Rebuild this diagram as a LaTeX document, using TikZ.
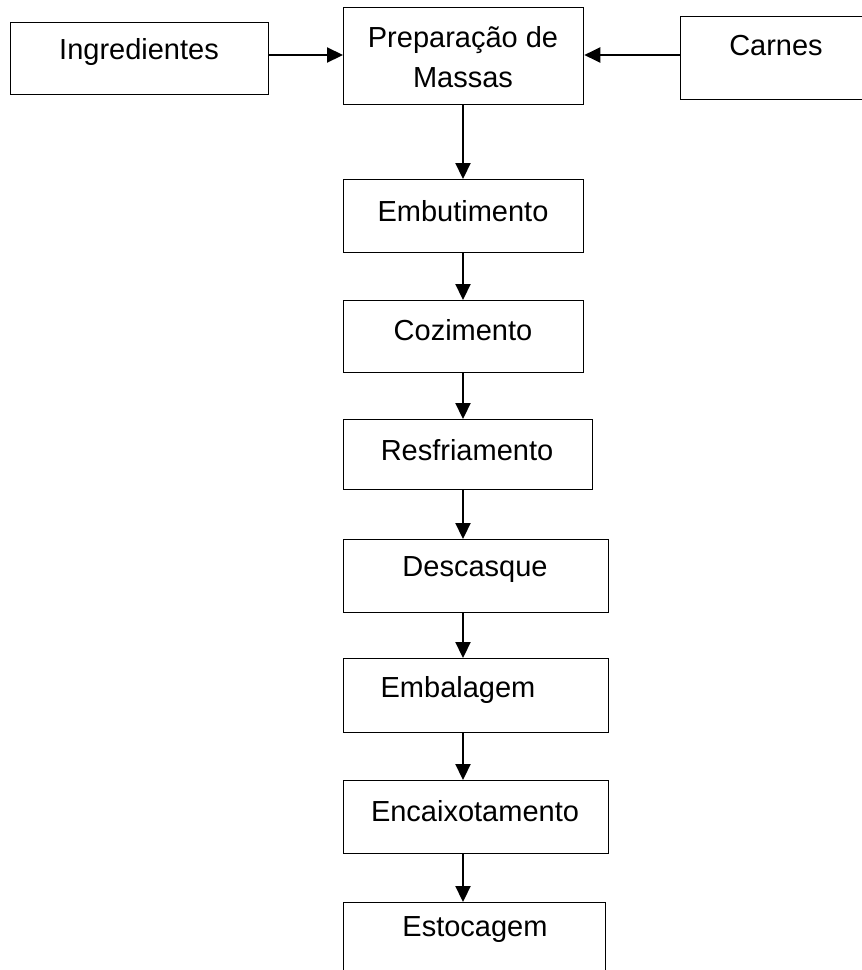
\documentclass[tikz,border=0pt]{standalone}
\usepackage{fontspec}
\setmainfont{Liberation Sans}
\usetikzlibrary{arrows.meta}
\begin{document}
\begin{tikzpicture}[x=1pt,y=-1pt,
  box/.style={draw=black,line width=1.3pt,rectangle,inner sep=0pt,anchor=north west},
  lbl/.style={inner sep=0pt,font=\fontsize{29}{40}\selectfont,align=center},
  arr/.style={line width=2.2pt,-{Triangle[length=16pt,width=15pt]}}]
\useasboundingbox (0,0) rectangle (862,970);
\begin{scope}
\clip (0,0) rectangle (862,970);
% boxes
\node[box,minimum width=258pt,minimum height=72pt] (ing) at (10,22) {};
\node[box,minimum width=240pt,minimum height=97pt] (prep) at (343,7) {};
\node[box,minimum width=200pt,minimum height=83pt] (car) at (680,16) {};
\node[box,minimum width=240pt,minimum height=73pt] (emb) at (343,179) {};
\node[box,minimum width=240pt,minimum height=72pt] (coz) at (343,300) {};
\node[box,minimum width=249pt,minimum height=70pt] (res) at (343,419) {};
\node[box,minimum width=265pt,minimum height=73pt] (des) at (343,539) {};
\node[box,minimum width=265pt,minimum height=74pt] (emba) at (343,658) {};
\node[box,minimum width=265pt,minimum height=73pt] (enc) at (343,780) {};
\node[box,minimum width=262pt,minimum height=90pt] (est) at (343,902) {};
\end{scope}
% texts
\node[lbl] (tIng) at (139,52) {Ingredientes};
\node[lbl] (tPrep) at (463,57) {Preparação de\\Massas};
\node[lbl] (tCar) at (776,46) {Carnes};
\node[lbl] (tEmb) at (463,211) {Embutimento};
\node[lbl] (tCoz) at (463,330) {Cozimento};
\node[lbl] (tRes) at (467,450) {Resfriamento};
\node[lbl] (tDes) at (475,570) {Descasque};
\node[lbl] (tEmba) at (458,690) {Embalagem};
\node[lbl] (tEnc) at (475,811) {Encaixotamento};
\node[lbl] (tEst) at (475,930) {Estocagem};
% arrows
\draw[arr] (ing.east |- 0,55) -- (prep.west |- 0,55);
\draw[arr] (car.west |- 0,55) -- (prep.east |- 0,55);
\draw[arr] (prep.south -| 463,0) -- (emb.north -| 463,0);
\draw[arr] (emb.south -| 463,0) -- (coz.north -| 463,0);
\draw[arr] (coz.south -| 463,0) -- (res.north -| 463,0);
\draw[arr] (res.south -| 463,0) -- (des.north -| 463,0);
\draw[arr] (des.south -| 463,0) -- (emba.north -| 463,0);
\draw[arr] (emba.south -| 463,0) -- (enc.north -| 463,0);
\draw[arr] (enc.south -| 463,0) -- (est.north -| 463,0);
\end{tikzpicture}
\end{document}
